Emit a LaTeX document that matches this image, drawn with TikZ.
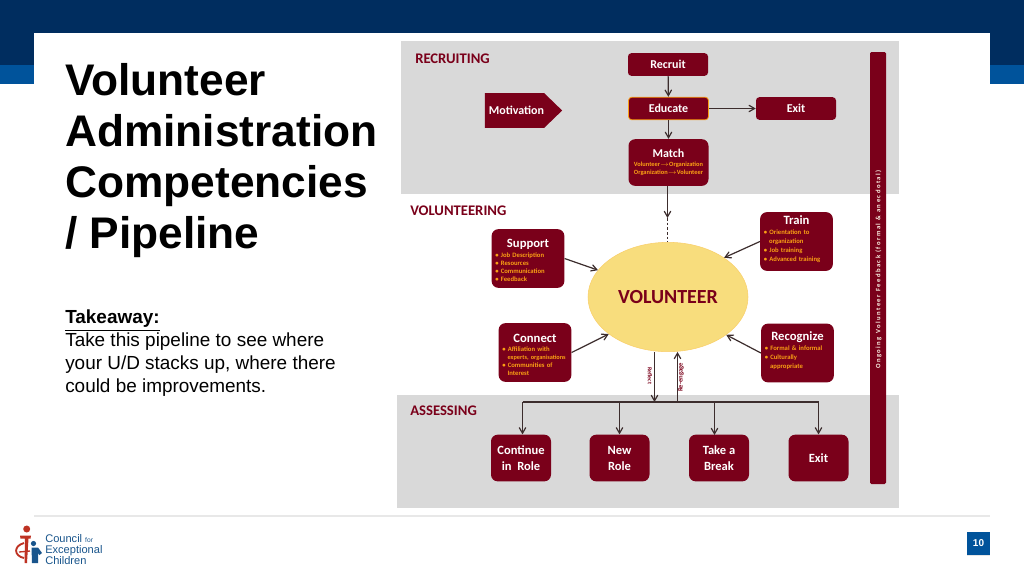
\documentclass[tikz,border=0pt]{standalone}
\usepackage{fontspec}
\usepackage{xcolor}
\usetikzlibrary{shapes.geometric, shapes.symbols, arrows, positioning, shadows}
\setmainfont{Liberation Sans}
\newfontfamily\diagfont{Carlito}
\definecolor{navyband}{RGB}{0, 45, 95}
\definecolor{blueband}{RGB}{0, 83, 155}
\definecolor{winered}{RGB}{122, 0, 26}
\definecolor{greyband}{RGB}{217, 217, 217}
\definecolor{itemorange}{RGB}{250, 160, 20}
\definecolor{ovalyellow}{RGB}{248, 221, 125}
\definecolor{darkline}{RGB}{60, 45, 45}
\definecolor{logored}{RGB}{190, 50, 35}
\definecolor{logoblue}{RGB}{25, 85, 140}
\newcommand{\boxhead}[1]{\makebox[\hsize][c]{\fontsize{9.5}{11}\selectfont\bfseries\color{white}#1}}

\begin{document}
\begin{tikzpicture}[
    x=0.75pt, y=-0.75pt,
    flowbox/.style={rectangle, rounded corners=2.5pt, minimum width=60pt, minimum height=17pt, inner sep=0pt, text centered, fill=winered, text=white, font=\diagfont\fontsize{9}{10}\selectfont\bfseries},
    infobox/.style={rectangle, rounded corners=5pt, minimum width=54.5pt, minimum height=44pt, inner sep=0pt, text width=49pt, align=left, fill=winered, text=itemorange, font=\diagfont\fontsize{5}{6}\selectfont\bfseries},
    endbox/.style={flowbox, rounded corners=5pt, minimum width=45pt, minimum height=35pt, align=center, font=\diagfont\fontsize{9.4}{12}\selectfont\bfseries},
    stagelabel/.style={anchor=base west, inner sep=0pt, text=winered, font=\diagfont\fontsize{11}{12}\selectfont\bfseries},
    sidelabel/.style={inner sep=0pt, text=winered, font=\diagfont\fontsize{4.4}{5}\selectfont\bfseries},
    arrow/.style={line width=0.9pt, ->, >=angle 60, draw=darkline}
]
\useasboundingbox (0,0) rectangle (1024,576);

% Slide background
\fill [white] (0,0) rectangle (1024,576);
\fill [navyband] (0,0) rectangle (1024,65);
\fill [blueband] (0,65) rectangle (1024,84);
\fill [white, drop shadow={shadow xshift=0pt, shadow yshift=-1.5pt, opacity=0.18}] (34,33) rectangle (990,515);

% Bands
\fill [greyband] (401,41) rectangle (899,194);
\fill [greyband] (397,395) rectangle (899,508);

% Left text
\node (title) [anchor=north west, inner sep=0pt, align=left, font=\fontsize{33.2}{38.25}\selectfont\bfseries] at (65,63) {Volunteer\\Administration\\Competencies\\/ Pipeline};
\node (takeaway) [anchor=north west, inner sep=0pt, align=left, font=\fontsize{14.2}{17.25}\selectfont] at (65,310) {\textbf{\underline{Takeaway:}}\\Take this pipeline to see where\\your U/D stacks up, where there\\could be improvements.};

% Stage labels
\node (recruiting) [stagelabel] at (415,63) {RECRUITING};
\node (volunteering) [stagelabel] at (410,215) {VOLUNTEERING};
\node (assessing) [stagelabel] at (410,415) {ASSESSING};

% Recruiting
\node (recruit) [flowbox] at (668,64.5) {Recruit};
\node (educate) [flowbox, draw=itemorange, line width=0.6pt] at (668.5,108.5) {Educate};
\node (exit) [flowbox] at (796,108.5) {Exit};
\node (match) [flowbox, rounded corners=5pt, minimum height=35pt, align=center, font=\diagfont\fontsize{4.8}{6.5}\selectfont\bfseries, text=itemorange] at (668.5,162.5) {{\fontsize{9}{11}\selectfont\color{white}Match}\\Volunteer$\rightarrow$Organization\\Organization$\rightarrow$Volunteer};
\node (motivation) [signal, signal to=east, signal pointer angle=88, minimum width=58pt, minimum height=26pt, inner sep=0pt, fill=winered, text=white, font=\diagfont\fontsize{9}{10}\selectfont\bfseries] at (514.5,110.5) {\hspace*{3pt}Motivation};

% Volunteer
\node (volunteer) [ellipse, minimum width=120pt, minimum height=82pt, inner sep=0pt, fill=ovalyellow, draw=ovalyellow!85!orange, text=winered, font=\diagfont\fontsize{15}{16}\selectfont\bfseries] at (668,297) {VOLUNTEER};
\node (support) [infobox] at (528,258.5) {\rule{0pt}{9.2pt}\boxhead{Support}\\[1.5pt]\textbullet\ Job Description\\\textbullet\ Resources\\\textbullet\ Communication\\\textbullet\ Feedback};
\node (train) [infobox, font=\diagfont\fontsize{5}{6.75}\selectfont\bfseries] at (796.5,241.5) {\boxhead{Train}\\[1pt]\textbullet\ Orientation to\\\hspace*{4pt}organization\\\textbullet\ Job training\\\textbullet\ Advanced training\\[-2pt]\mbox{}};
\node (connect) [infobox] at (535,352.5) {\rule{0pt}{10pt}\boxhead{Connect}\\[0.5pt]\textbullet\ Affiliation with\\\hspace*{4pt}\mbox{\fontsize{4.7}{6}\selectfont experts, organisations}\\\textbullet\ Communities of\\\hspace*{4pt}Interest};
\node (recognize) [infobox, font=\diagfont\fontsize{5}{6.75}\selectfont\bfseries] at (797.5,353) {\boxhead{Recognize}\\[1pt]\textbullet\ Formal \& informal\\\textbullet\ Culturally\\\hspace*{4pt}appropriate\\[-2pt]\mbox{}};

% Assessing
\coordinate (barleft) at (522.5,402);
\coordinate (barright) at (818.5,402);
\coordinate (reflectend) at (654.5,402);
\coordinate (engagestart) at (677.5,402);
\coordinate (matchgap) at (667.5,218);
\coordinate (breakend) at (714.5,435);
\node (continue) [endbox] at (521,458) {Continue\\in~~Role};
\node (newrole) [endbox] at (619.5,458) {New\\Role};
\node (takebreak) [endbox] at (719,458) {Take a\\Break};
\node (leave) [endbox] at (818.5,458) {Exit};
\node (reflect) [sidelabel, rotate=-90] at (650,376) {Reflect};
\node (engage) [sidelabel, rotate=90, font=\diagfont\fontsize{5}{6}\selectfont\bfseries] at (681,377.5) {Re-engage};

% Feedback bar
\node (feedback) [rectangle, rounded corners=1pt, minimum width=12pt, minimum height=324pt, inner sep=0pt, fill=winered] at (878,268) {};
\node (feedbacktext) [rotate=90, inner sep=0pt, text=white!90!itemorange, font=\diagfont\fontsize{5}{6}\selectfont\bfseries\addfontfeature{LetterSpace=22}] at (878.5,269.5) {Ongoing Volunteer Feedback (formal \& anecdotal)};

% Arrows
\draw [arrow] (recruit) -- (educate);
\draw [arrow] (educate) -- (match);
\draw [arrow] (educate) -- (exit);
\draw [arrow] (match.south -| matchgap) -- (matchgap);
\draw [darkline, line width=0.6pt, dash pattern=on 2pt off 1.5pt] (matchgap) -- (volunteer.north -| matchgap);
\draw [arrow] (support.east) -- (volunteer.159);
\draw [arrow] (train.west) -- (volunteer.35);
\draw [arrow] (connect.east) -- (volunteer.212);
\draw [arrow] (recognize.west) -- (volunteer.-33);
\draw [arrow] (volunteer.south -| reflectend) -- (reflectend);
\draw [arrow] (engagestart) -- (volunteer.south -| engagestart);
\draw [line width=0.9pt, draw=darkline] (barleft) -- (barright);
\draw [arrow] (barleft) -- (barleft |- continue.north);
\draw [arrow] (newrole.north |- barleft) -- (newrole.north);
\draw [arrow] (breakend |- barleft) -- (breakend);
\draw [arrow] (barright) -- (leave.north);

% Footer
\node (pagenum) [rectangle, minimum width=17.25pt, minimum height=17.25pt, inner sep=0pt, fill=blueband, text=white, font=\fontsize{7.5}{9}\selectfont\bfseries, drop shadow={shadow xshift=0pt, shadow yshift=-1pt, opacity=0.2}] at (978.5,543.5) {10};
\node (logotext) [anchor=north west, inner sep=0pt, align=left, text=logoblue, font=\fontsize{8.3}{8.2}\selectfont] at (45,534) {Council {\fontsize{5}{5}\selectfont for}\\Exceptional\\Children};

% Logo
\fill [logored] (26.7,529) circle (3.5);
\fill [logored] (20,535.5) -- (31,535.5) -- (30.5,538.5) -- (28.5,538.5) -- (27,563) -- (24.5,563) -- (25,538.5) -- (20.5,538.5) -- cycle;
\draw [logored, line width=1.4pt] (24,543) .. controls (13,546) and (14,556) .. (24,558);
\draw [logored, line width=1pt] (19,552) -- (30,551);
\fill [logoblue] (33.5,543.5) circle (2.6);
\fill [logoblue] (31.5,547.5) -- (38,547.5) -- (42,553) -- (39.5,555) -- (38,553) -- (38,563) -- (32,563) -- cycle;
\end{tikzpicture}
\end{document}
